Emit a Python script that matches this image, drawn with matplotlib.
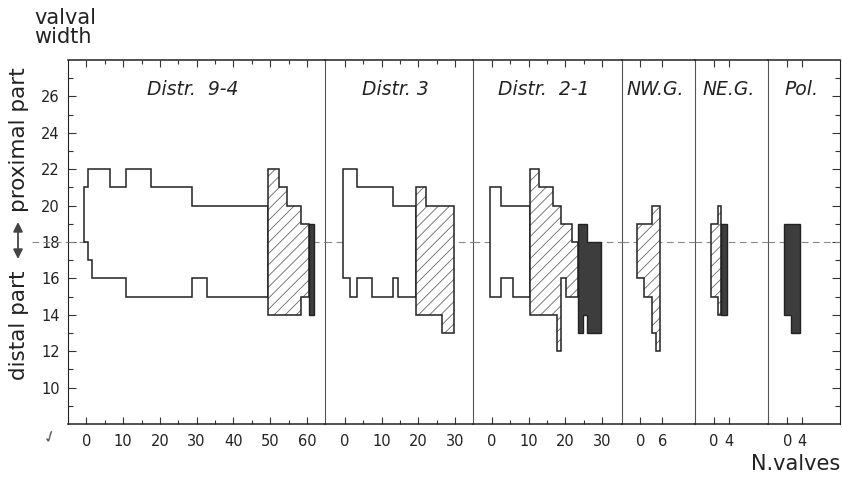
# Diagrama de anchura valvar por distrito
import matplotlib
matplotlib.use("Agg")
import matplotlib.pyplot as plt
from matplotlib.lines import Line2D
from matplotlib import transforms

W, H = 842, 478

# Paneles
panel_names = ["Distr.  9-4", "Distr. 3", "Distr.  2-1", "NW.G.", "NE.G.", "Pol."]
panel_xlim = [(-5.0, 65.0), (-5.3, 34.8), (-5.2, 35.3), (-5.1, 14.8), (-5.2, 14.7), (-5.3, 14.3)]
panel_ticks = [[0, 10, 20, 30, 40, 50, 60], [0, 10, 20, 30], [0, 10, 20, 30], [0, 6], [0, 4], [0, 4]]
panel_minor = [[5, 15, 25, 35, 45, 55], [5, 15, 25], [5, 15, 25], [], [], []]
title_x = [28.8, 13.7, 14.0, 4.1, 3.9, 3.8]

# Distr. 9-4
d94_open_x = [-0.6, 0.5, 1.5, 6.5, 10.7, 17.7, 28.8, 32.9, 49.4]
d94_open_top = [21, 22, 22, 21, 22, 21, 20, 20]
d94_open_bot = [18, 17, 16, 16, 15, 15, 16, 15]
d94_hatch_x = [49.4, 52.4, 54.7, 58.5, 60.6]
d94_hatch_top = [22, 21, 20, 19]
d94_hatch_bot = [14, 14, 14, 15]
d94_solid_x = [60.6, 61.8]
d94_solid_top = [19]
d94_solid_bot = [14]

# Distr. 3
d3_open_x = [-0.6, 1.4, 3.4, 7.4, 13.2, 14.5, 19.3]
d3_open_top = [22, 22, 21, 21, 20, 20]
d3_open_bot = [16, 15, 16, 15, 16, 15]
d3_hatch_x = [19.3, 22.0, 26.3, 29.7]
d3_hatch_top = [21, 20, 20]
d3_hatch_bot = [14, 14, 13]

# Distr. 2-1
d21_open_x = [-0.5, 2.6, 5.8, 10.5]
d21_open_top = [21, 20, 20]
d21_open_bot = [15, 16, 15]
d21_hatch_x = [10.5, 12.8, 16.5, 17.6, 18.9, 20.3, 21.7, 23.5]
d21_hatch_top = [22, 21, 20, 20, 19, 19, 18]
d21_hatch_bot = [14, 14, 14, 12, 16, 15, 15]
d21_solid_x = [23.5, 24.8, 25.9, 29.6]
d21_solid_top = [19, 19, 18]
d21_solid_bot = [13, 14, 13]

# NW.G.
nwg_hatch_x = [-1.0, 1.0, 3.1, 4.3, 5.4]
nwg_hatch_top = [19, 19, 20, 20]
nwg_hatch_bot = [16, 15, 13, 12]

# NE.G.
neg_hatch_x = [-0.9, 1.0, 1.9]
neg_hatch_top = [19, 20]
neg_hatch_bot = [15, 14]
neg_solid_x = [1.9, 3.45]
neg_solid_top = [19]
neg_solid_bot = [14]

# Pol.
pol_solid_x = [-0.9, 1.1, 3.4]
pol_solid_top = [19, 19]
pol_solid_bot = [14, 13]


def step_poly(x, top, bot):
    xs, ys = [], []
    for i in range(len(top)):
        xs += [x[i], x[i + 1]]
        ys += [top[i], top[i]]
    for i in reversed(range(len(bot))):
        xs += [x[i + 1], x[i]]
        ys += [bot[i], bot[i]]
    return xs, ys


def draw_open(ax, x, top, bot):
    xs, ys = step_poly(x, top, bot)
    ax.fill(xs, ys, facecolor="white", edgecolor="#222222", lw=1.1, zorder=3)


def draw_hatch(ax, x, top, bot):
    xs, ys = step_poly(x, top, bot)
    ax.fill(xs, ys, facecolor="white", edgecolor="#666666", hatch="///", lw=0, zorder=3)
    ax.fill(xs, ys, facecolor="none", edgecolor="#222222", lw=1.1, zorder=4)


def draw_solid(ax, x, top, bot):
    xs, ys = step_poly(x, top, bot)
    ax.fill(xs, ys, facecolor="#3d3d3d", edgecolor="#222222", lw=1.0, zorder=3)


plt.rcParams["font.family"] = ["DejaVu Sans"]
plt.rcParams["hatch.linewidth"] = 0.6

fig = plt.figure(figsize=(W / 100, H / 100), dpi=100)
widths = [b - a for a, b in panel_xlim]
gs = fig.add_gridspec(1, 6, width_ratios=widths, wspace=0,
                      left=68 / W, right=840 / W, bottom=1 - 424 / H, top=1 - 60 / H)
axes = [fig.add_subplot(gs[0, i]) for i in range(6)]

draw_open(axes[0], d94_open_x, d94_open_top, d94_open_bot)
draw_hatch(axes[0], d94_hatch_x, d94_hatch_top, d94_hatch_bot)
draw_solid(axes[0], d94_solid_x, d94_solid_top, d94_solid_bot)

draw_open(axes[1], d3_open_x, d3_open_top, d3_open_bot)
draw_hatch(axes[1], d3_hatch_x, d3_hatch_top, d3_hatch_bot)

draw_open(axes[2], d21_open_x, d21_open_top, d21_open_bot)
draw_hatch(axes[2], d21_hatch_x, d21_hatch_top, d21_hatch_bot)
draw_solid(axes[2], d21_solid_x, d21_solid_top, d21_solid_bot)

draw_hatch(axes[3], nwg_hatch_x, nwg_hatch_top, nwg_hatch_bot)

draw_hatch(axes[4], neg_hatch_x, neg_hatch_top, neg_hatch_bot)
draw_solid(axes[4], neg_solid_x, neg_solid_top, neg_solid_bot)

draw_solid(axes[5], pol_solid_x, pol_solid_top, pol_solid_bot)

last = len(axes) - 1
for i, ax in enumerate(axes):
    ax.set_facecolor("none")
    ax.set_xlim(*panel_xlim[i])
    ax.set_ylim(8, 28)
    ax.set_xticks(panel_ticks[i])
    ax.set_xticks(panel_minor[i], minor=True)
    ax.tick_params(axis="x", which="both", direction="in", top=True, bottom=True,
                   length=5, width=0.8, color="#333333", labelsize=10.5, pad=7,
                   labelcolor="#222222")
    ax.tick_params(axis="x", which="minor", length=3)
    ax.set_yticks(range(10, 27, 2))
    ax.set_yticks(range(9, 28), minor=True)
    ax.tick_params(axis="y", which="both", direction="in", width=0.8, color="#333333",
                   labelsize=10.5, pad=6, labelcolor="#222222",
                   left=(i == 0), right=(i == last), labelleft=(i == 0))
    ax.tick_params(axis="y", which="major", length=6)
    ax.tick_params(axis="y", which="minor", length=3.5)
    for side in ["top", "bottom"]:
        ax.spines[side].set_color("#222222")
        ax.spines[side].set_linewidth(1.1)
    ax.spines["left"].set_visible(i == 0)
    ax.spines["left"].set_color("#222222")
    if i < last:
        ax.spines["right"].set_color("#555555")
        ax.spines["right"].set_linewidth(0.8)
        ax.spines["right"].set_zorder(5)
    else:
        ax.spines["right"].set_color("#222222")
    ax.text(title_x[i], 26.05, panel_names[i], ha="center", va="baseline",
            fontsize=13.5, style="italic", color="#222222")
    ax.axhline(18, color="#888888", lw=0.8, dashes=(6, 4), zorder=2)

# línea discontinua que sale a la izquierda
tr = transforms.blended_transform_factory(fig.transFigure, axes[0].transData)
fig.add_artist(Line2D([32 / W, 68 / W], [18, 18], transform=tr, color="#888888",
                      lw=0.8, dashes=(6, 4)))

# rótulos de los ejes
fig.text(34 / W, 1 - 8 / H, "valval\nwidth", ha="left", va="top", fontsize=15,
         color="#222222", linespacing=0.95)
fig.text(840 / W, 1 - 470 / H, "N.valves", ha="right", va="baseline", fontsize=15,
         color="#222222")
fig.text(19 / W, 1 - 140 / H, "proximal part", rotation=90, ha="center", va="center",
         fontsize=15.5, color="#222222")
fig.text(19 / W, 1 - 325 / H, "distal part", rotation=90, ha="center", va="center",
         fontsize=15.5, color="#222222")
axes[0].annotate("", xy=(18, H - 222), xytext=(18, H - 259), xycoords="figure pixels",
                 textcoords="figure pixels",
                 arrowprops=dict(arrowstyle="<|-|>", color="#444444", lw=1.3,
                                 mutation_scale=14, shrinkA=0, shrinkB=0))
fig.text(50 / W, 1 - 437 / H, "\u2713", ha="center", va="center", fontsize=12,
         rotation=20, color="#555555")

fig.savefig("out.png", dpi=100, facecolor="white")
